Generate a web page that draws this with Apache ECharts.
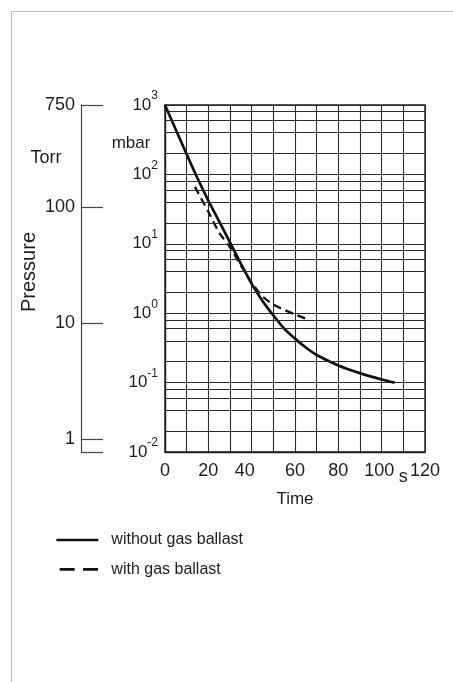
<!DOCTYPE html>
<html>
<head>
<meta charset="utf-8">
<script src="https://cdn.jsdelivr.net/npm/echarts@6/dist/echarts.min.js"></script>
<style>
html,body{margin:0;padding:0;background:#fff;}
#frame{position:absolute;left:11px;top:11px;width:700px;height:900px;border-top:1.5px solid #b9b9b9;border-left:1.5px solid #b9b9b9;}
#chart{position:absolute;left:0;top:0;width:453px;height:682px;}
</style>
</head>
<body>
<div id="frame"></div>
<div id="chart"></div>
<script>
// ---- data ----
const timeSolid     = [0, 5, 10, 15, 20, 25, 30, 35, 40, 45, 50, 55, 60, 65, 70, 80, 90, 100, 106];
const pressureSolid = [1000, 440, 195, 88, 42, 21, 10.5, 5.2, 2.65, 1.5, 0.93, 0.6, 0.43, 0.32, 0.25, 0.177, 0.137, 0.111, 0.1];
const timeDashed     = [13.8, 20, 25, 30, 35, 40, 45, 50, 55, 60, 66];
const pressureDashed = [66, 29, 14.5, 8.9, 4.9, 2.75, 1.75, 1.33, 1.12, 0.96, 0.81];
const seriesNames = ['without gas ballast', 'with gas ballast'];
const xTickLabels = ['0', '', '20', '', '40', '', '60', '', '80', '', '100', 's', '120'];
const mbarRange = [0.01, 1000];
const minorMultipliers = [2, 4, 6, 8];
const mbarDecades = [0.01, 0.1, 1, 10, 100];
const torrTicks = [1, 10, 100, 750];
const torrAxisMin = 0.78;

const FONT = '"Liberation Sans", Arial, Helvetica, sans-serif';
const INK = '#1e1e1e';
const GRIDC = '#2c2c2c';

const minorGrid = [];
mbarDecades.forEach(d => minorMultipliers.forEach(m => minorGrid.push(+(d * m).toPrecision(6))));

const torrMinLog = Math.log10(torrAxisMin);
const torrTickLogs = torrTicks.map(t => Math.log10(t));

const chart = echarts.init(document.getElementById('chart'), null, {renderer: 'canvas'});
chart.setOption({
  animation: false,
  backgroundColor: 'transparent',
  textStyle: {fontFamily: FONT, color: INK},
  grid: [
    {left: 165, top: 105, width: 260, height: 347, show: true, borderColor: INK, borderWidth: 1.4, backgroundColor: 'transparent'},
    {left: 81, top: 105, width: 1, height: 347, show: false}
  ],
  xAxis: [
    {
      gridIndex: 0, type: 'value', min: 0, max: 120, interval: 10,
      axisLine: {show: true, lineStyle: {color: INK, width: 1.4}},
      axisTick: {show: false},
      splitLine: {show: true, lineStyle: {color: GRIDC, width: 1.1}},
      axisLabel: {
        interval: 0, margin: 10, fontSize: 18, color: INK, fontFamily: FONT,
        formatter: function (v) {
          const t = xTickLabels[Math.round(v / 10)];
          if (!t) return '';
          if (t === 's') return '{s|s}';
          if (t === '40') return '{l|40}';
          if (t === '100') return '{m|100}';
          return t;
        },
        rich: {
          s: {fontSize: 18, color: INK, fontFamily: FONT, padding: [6, 0, 0, 0]},
          l: {fontSize: 18, color: INK, fontFamily: FONT, padding: [0, 14, 0, 0]},
          m: {fontSize: 18, color: INK, fontFamily: FONT, padding: [0, 5, 0, 0]}
        }
      },
      name: 'Time', nameLocation: 'middle', nameGap: 39,
      nameTextStyle: {fontSize: 17, color: INK, fontFamily: FONT}
    },
    {gridIndex: 1, type: 'value', show: false, min: 0, max: 1}
  ],
  yAxis: [
    {
      gridIndex: 0, type: 'log', logBase: 10, min: mbarRange[0], max: mbarRange[1],
      axisLine: {show: true, lineStyle: {color: INK, width: 1.4}},
      axisTick: {show: false},
      splitLine: {show: true, lineStyle: {color: GRIDC, width: 1.1}},
      axisLabel: {
        margin: 7, color: INK, fontFamily: FONT,
        formatter: function (v) {
          const e = Math.round(Math.log10(v));
          return '{b|10}{e|' + e + '}';
        },
        rich: {
          b: {fontSize: 17, color: INK, fontFamily: FONT},
          e: {fontSize: 12, color: INK, fontFamily: FONT, padding: [0, 0, 18, 0]}
        }
      }
    },
    {
      gridIndex: 1, type: 'value', min: torrMinLog, max: Math.log10(torrTicks[torrTicks.length - 1]),
      axisLine: {show: true, lineStyle: {color: '#444', width: 1.2}},
      axisTick: {show: true, inside: true, length: 22, lineStyle: {color: '#444', width: 1.2},
                 customValues: [torrMinLog].concat(torrTickLogs)},
      splitLine: {show: false},
      axisLabel: {
        margin: 6, fontSize: 18, color: INK, fontFamily: FONT,
        customValues: torrTickLogs,
        formatter: function (v) {
          const t = torrTicks.find(x => Math.abs(Math.log10(x) - v) < 1e-6);
          return t === undefined ? '' : String(t);
        }
      }
    }
  ],
  legend: {
    orient: 'vertical', left: 55, top: 532, padding: 0,
    itemWidth: 42, itemHeight: 14, itemGap: 13.4, selectedMode: false,
    itemStyle: {color: 'rgba(0,0,0,0)', borderWidth: 0, borderColor: 'rgba(0,0,0,0)'},
    textStyle: {fontSize: 16, color: INK, fontFamily: FONT, padding: [0, 0, 0, 8]},
    data: [
      {name: seriesNames[0], lineStyle: {width: 2.7, color: '#111'}},
      {name: seriesNames[1], lineStyle: {width: 2.7, color: '#111', type: [15, 8.4], dashOffset: 20.1}}
    ]
  },
  graphic: [
    {type: 'text', x: 46, y: 158, style: {text: 'Torr', fontSize: 18, fontFamily: FONT, fill: INK, align: 'center', verticalAlign: 'middle'}},
    {type: 'text', x: 131, y: 143, style: {text: 'mbar', fontSize: 17, fontFamily: FONT, fill: INK, align: 'center', verticalAlign: 'middle'}},
    {type: 'text', x: 29, y: 272, rotation: Math.PI / 2, style: {text: 'Pressure', fontSize: 20, fontFamily: FONT, fill: INK, align: 'center', verticalAlign: 'middle'}}
  ],
  series: [
    {
      name: 'minor grid', type: 'line', xAxisIndex: 0, yAxisIndex: 0, data: [], z: 1,
      markLine: {
        silent: true, animation: false, symbol: ['none', 'none'], label: {show: false},
        lineStyle: {color: GRIDC, width: 1.1, type: 'solid'},
        data: minorGrid.map(v => ({yAxis: v}))
      }
    },
    {
      name: seriesNames[0], type: 'line', xAxisIndex: 0, yAxisIndex: 0, z: 4,
      data: timeSolid.map((t, i) => [t, pressureSolid[i]]),
      symbol: 'none', smooth: 0.3,
      lineStyle: {color: '#111', width: 2.7}
    },
    {
      name: seriesNames[1], type: 'line', xAxisIndex: 0, yAxisIndex: 0, z: 4,
      data: timeDashed.map((t, i) => [t, pressureDashed[i]]),
      symbol: 'none', smooth: 0.3,
      lineStyle: {color: '#111', width: 2.3, type: [8, 5]}
    }
  ]
});
</script>
</body>
</html>
